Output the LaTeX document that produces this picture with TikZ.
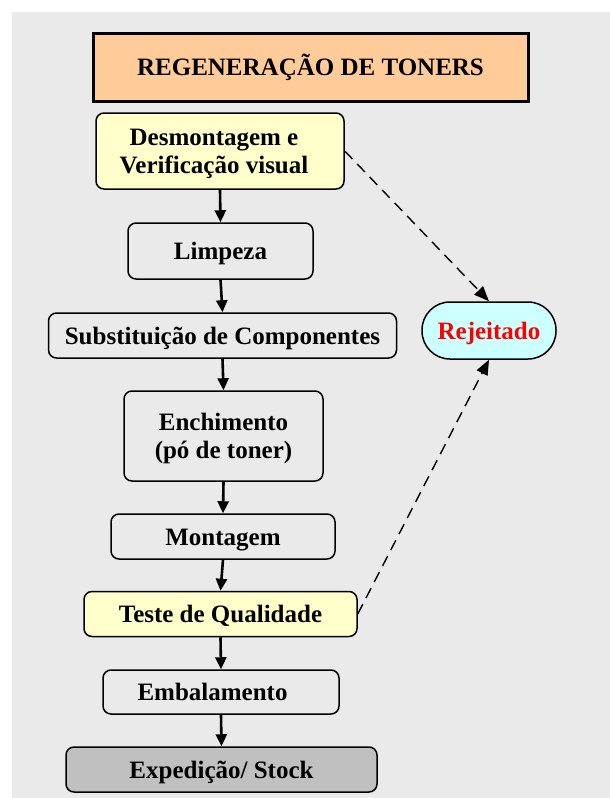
\documentclass[tikz,border=0pt]{standalone}
\usepackage{fontspec}
\setmainfont{Liberation Serif}
\usetikzlibrary{arrows.meta}
\definecolor{bggray}{HTML}{EAEAEA}
\definecolor{titleorange}{HTML}{FFCC99}
\definecolor{paleyellow}{HTML}{FFFFCC}
\definecolor{palecyan}{HTML}{CCFFFF}
\definecolor{boxgray}{HTML}{C0C0C0}
\definecolor{rejred}{HTML}{FF0000}
\tikzset{
  txt/.style={font=\bfseries\fontsize{25}{28}\selectfont},
  onel/.style={text height=17pt, text depth=0pt},
  twol/.style={text height=30pt, text depth=11.7pt},
  stepbox/.style={txt, draw=black, line width=1.5pt, rounded corners=8pt, inner sep=0pt},
  titlebox/.style={txt, draw=black, line width=3pt, fill=titleorange, inner sep=0pt, onel},
  flow/.style={line width=2.6pt, -{Triangle[length=12pt,width=11pt]}},
  reject/.style={line width=1.4pt, dash pattern=on 11pt off 7pt, -{Triangle[length=15pt,width=12pt]}},
}
\begin{document}
\begin{tikzpicture}[x=1pt,y=-1pt]
\useasboundingbox (0,0) rectangle (610,798);
\fill[bggray] (12,12) rectangle (610,798);
\node[titlebox, minimum width=435pt, minimum height=68pt] (title) at (310.5,67) {REGENERAÇÃO DE TONERS};
\node[stepbox, twol, fill=paleyellow, minimum width=248pt, minimum height=76pt] (d) at (220,151)
  {\begin{tabular}{@{}c@{}}Desmontagem e\\Verificação visual\end{tabular}\hspace*{12pt}};
\node[stepbox, onel, minimum width=185pt, minimum height=56pt] (l) at (220.5,251) {Limpeza};
\node[stepbox, onel, minimum width=348pt, minimum height=45pt] (s) at (222.5,335.5) {Substituição de Componentes};
\node[stepbox, twol, minimum width=199pt, minimum height=90pt] (e) at (223.5,436)
  {\begin{tabular}{@{}c@{}}Enchimento\\(pó de toner)\end{tabular}};
\node[stepbox, onel, minimum width=224pt, minimum height=45pt] (m) at (223,536.5) {Montagem};
\node[stepbox, onel, fill=paleyellow, minimum width=273pt, minimum height=45pt] (t) at (220.5,614) {Teste de Qualidade};
\node[stepbox, onel, minimum width=236pt, minimum height=44pt] (b) at (221,692) {Embalamento\hspace*{17pt}};
\node[stepbox, onel, fill=boxgray, minimum width=311pt, minimum height=45pt] (x) at (221.5,769.5) {Expedição/ Stock};
\node[stepbox, onel, fill=palecyan, text=rejred, rounded corners=28pt, minimum width=134pt, minimum height=57pt] (r) at (489,330.5) {Rejeitado};
\draw[flow] (d.south) -- (l.north);
\draw[flow] (l.south) -- (s.north);
\draw[flow] (s.south) -- (e.north);
\draw[flow] (e.south) -- (m.north);
\draw[flow] (m.south) -- (t.north);
\draw[flow] (t.south) -- (b.north);
\draw[flow] (b.south) -- (x.north);
\draw[reject] (d.east) -- (r.north);
\draw[reject] (t.east) -- (r.south);
\end{tikzpicture}
\end{document}
